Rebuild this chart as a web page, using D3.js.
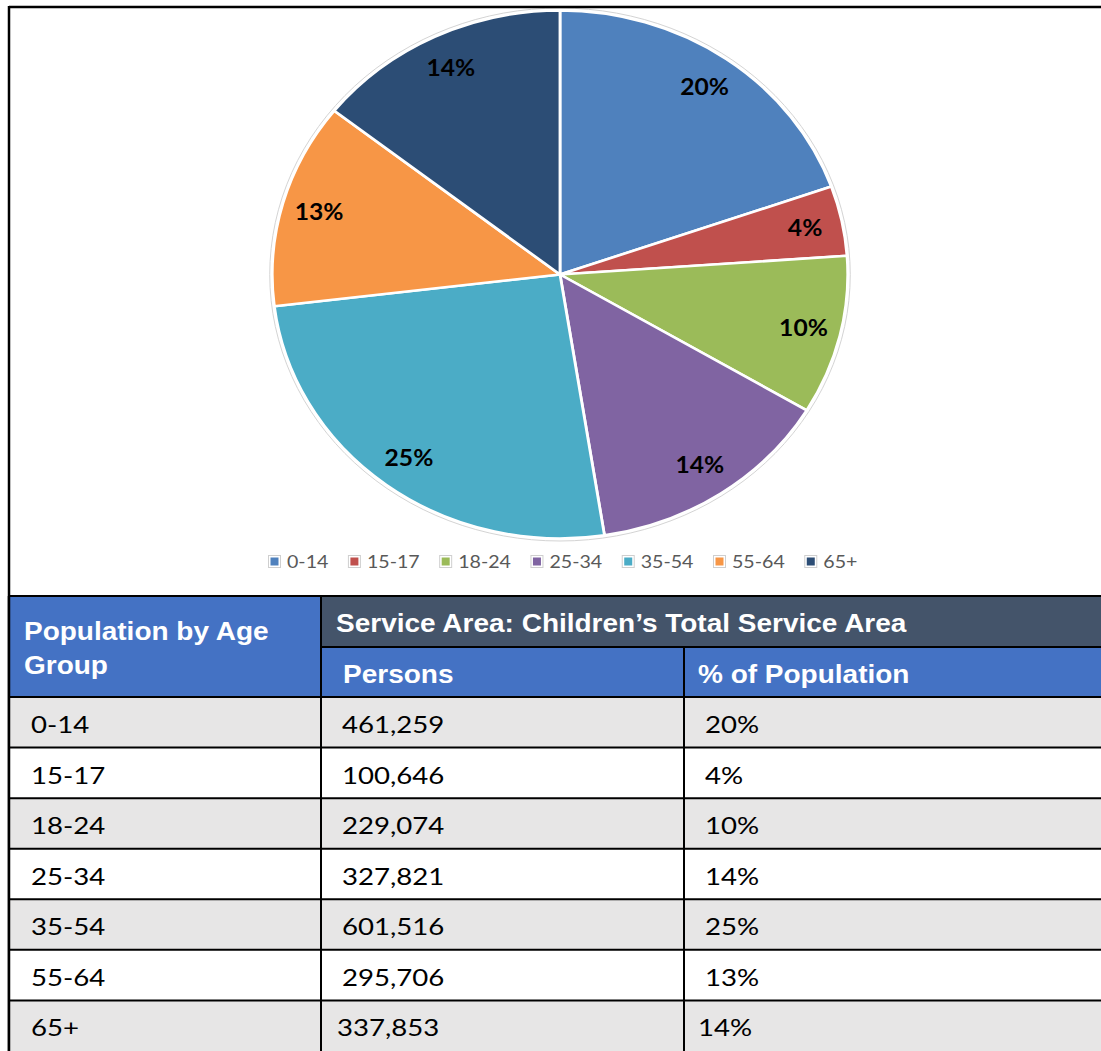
<!DOCTYPE html>
<html>
<head>
<meta charset="utf-8">
<script src="https://cdn.jsdelivr.net/npm/d3@7"></script>
<style>
  html, body { margin: 0; padding: 0; background: #fff; }
  svg { display: block; }
</style>
</head>
<body>
<div id="chart"></div>
<script>
var ageGroups = ["0-14", "15-17", "18-24", "25-34", "35-54", "55-64", "65+"];
var persons = [461259, 100646, 229074, 327821, 601516, 295706, 337853];
var pctLabels = ["20%", "4%", "10%", "14%", "25%", "13%", "14%"];
var sliceColors = ["#4F81BD", "#C0504D", "#9BBB59", "#8064A2", "#4BACC6", "#F79646", "#2C4D75"];

var headerMain = "Service Area: Children\u2019s Total Service Area";
var headerCols = ["Persons", "% of Population"];
var headerLeft = ["Population by Age", "Group"];

var W = 1101, H = 1051;
var SX = 1.09; // the whole picture is a bit wider than tall

var svg = d3.select("#chart").append("svg")
    .attr("width", W)
    .attr("height", H);

function stretchedText(g, x, y, txt, sx) {
    return g.append("text")
        .attr("transform", "translate(" + x + "," + y + ") scale(" + (sx || SX) + ",1)")
        .text(txt);
}

/* ---- pie ---- */
var cx = 560, cy = 274.5, ry = 264;

var data = ageGroups.map(function(a, i) {
    return { age: a, value: persons[i], label: pctLabels[i], color: sliceColors[i] };
});

var pie = d3.pie().sort(null).value(function(d) { return d.value; });
var arcs = pie(data);

var arc = d3.arc().innerRadius(0).outerRadius(ry);
var labelArc = d3.arc().innerRadius(ry * 0.87).outerRadius(ry * 0.87);

svg.append("ellipse")
    .attr("cx", cx).attr("cy", cy)
    .attr("rx", ry * SX + 2.5).attr("ry", ry + 2.5)
    .attr("fill", "none")
    .attr("stroke", "#d4d4d4")
    .attr("stroke-width", 1);

var pieG = svg.append("g")
    .attr("transform", "translate(" + cx + "," + cy + ") scale(" + SX + ",1)");

pieG.selectAll("path")
    .data(arcs)
    .enter().append("path")
    .attr("d", arc)
    .attr("fill", function(d) { return d.data.color; })
    .attr("stroke", "#fff")
    .attr("stroke-width", 2.6)
    .attr("stroke-linejoin", "round");

var labelG = svg.append("g")
    .attr("font-family", "Lato, 'Open Sans', sans-serif")
    .attr("font-weight", "bold")
    .attr("font-size", "22px")
    .attr("fill", "#000")
    .attr("text-anchor", "middle");

arcs.forEach(function(d) {
    var c = labelArc.centroid(d);
    stretchedText(labelG, cx + c[0] * SX, cy + c[1] + 8, d.data.label, 1.12);
});

/* ---- legend ---- */
var legendG = svg.append("g")
    .attr("font-family", "Lato, 'Open Sans', sans-serif")
    .attr("font-size", "18px")
    .attr("fill", "#595959");

var lx = 268;
data.forEach(function(d) {
    legendG.append("rect")
        .attr("x", lx + 0.5).attr("y", 555.5)
        .attr("width", 12).attr("height", 12)
        .attr("fill", "#fff")
        .attr("stroke", "#cfcfcf");
    legendG.append("rect")
        .attr("x", lx + 2.5).attr("y", 557.5)
        .attr("width", 8).attr("height", 8)
        .attr("fill", d.color);
    var t = stretchedText(legendG, lx + 19, 567.5, d.age);
    lx += 19 + t.node().getComputedTextLength() * SX + 19.5;
});

/* ---- outer frame ---- */
svg.append("line")
    .attr("x1", 9).attr("x2", W).attr("y1", 7).attr("y2", 7)
    .attr("stroke", "#000").attr("stroke-width", 2.5);
svg.append("line")
    .attr("x1", 9).attr("x2", 9).attr("y1", 6).attr("y2", H)
    .attr("stroke", "#000").attr("stroke-width", 2.5);

/* ---- table ---- */
var tableTop = 596, headMid = 647, bodyTop = 697;
var colX = [9, 321, 684, W + 5];

var rowScale = d3.scaleBand()
    .domain(ageGroups)
    .range([bodyTop, H]);

var tab = svg.append("g");

// header backgrounds
tab.append("rect")
    .attr("x", colX[0]).attr("y", tableTop)
    .attr("width", colX[1] - colX[0]).attr("height", bodyTop - tableTop)
    .attr("fill", "#4472C4");
tab.append("rect")
    .attr("x", colX[1]).attr("y", tableTop)
    .attr("width", colX[3] - colX[1]).attr("height", headMid - tableTop)
    .attr("fill", "#44546A");
tab.append("rect")
    .attr("x", colX[1]).attr("y", headMid)
    .attr("width", colX[3] - colX[1]).attr("height", bodyTop - headMid)
    .attr("fill", "#4472C4");

// body rows
tab.selectAll("rect.row")
    .data(ageGroups)
    .enter().append("rect")
    .attr("class", "row")
    .attr("x", colX[0]).attr("y", function(d) { return rowScale(d); })
    .attr("width", colX[3] - colX[0]).attr("height", rowScale.bandwidth())
    .attr("fill", function(d, i) { return i % 2 === 0 ? "#E7E6E6" : "#FFFFFF"; });

// grid lines
var gridG = tab.append("g").attr("stroke", "#000").attr("stroke-width", 2);
[tableTop, bodyTop].concat(ageGroups.slice(1).map(function(a) { return rowScale(a); }))
    .forEach(function(y) {
        gridG.append("line").attr("x1", colX[0]).attr("x2", W).attr("y1", y).attr("y2", y);
    });
gridG.append("line").attr("x1", colX[1]).attr("x2", W).attr("y1", headMid).attr("y2", headMid);
gridG.append("line").attr("x1", colX[1]).attr("x2", colX[1]).attr("y1", tableTop).attr("y2", H);
gridG.append("line").attr("x1", colX[2]).attr("x2", colX[2]).attr("y1", headMid).attr("y2", H);
gridG.append("line").attr("x1", colX[0]).attr("x2", colX[0]).attr("y1", tableTop).attr("y2", H)
    .attr("stroke-width", 2.5);

// header text
var headTxt = tab.append("g")
    .attr("font-family", "'Liberation Sans', Arial, sans-serif")
    .attr("font-weight", "bold")
    .attr("font-size", "25px")
    .attr("fill", "#fff");
var HSX = 1.12;
stretchedText(headTxt, 24, 640, headerLeft[0], HSX);
stretchedText(headTxt, 24, 674, headerLeft[1], HSX);
stretchedText(headTxt, 336, 632, headerMain, HSX);
stretchedText(headTxt, 343, 683, headerCols[0], HSX);
stretchedText(headTxt, 698, 683, headerCols[1], HSX);

// body text
var bodyTxt = tab.append("g")
    .attr("font-family", "Lato, 'Open Sans', sans-serif")
    .attr("font-size", "24px")
    .attr("fill", "#000");
var BSX = 1.15;
var fmt = d3.format(",");
data.forEach(function(d, i) {
    var y = rowScale(d.age) + 36;
    var last = i === data.length - 1;
    stretchedText(bodyTxt, 31, y, d.age, BSX);
    stretchedText(bodyTxt, last ? 337 : 342, y, fmt(d.value), BSX);
    stretchedText(bodyTxt, last ? 698 : 705, y, d.label, BSX);
});
</script>
</body>
</html>
